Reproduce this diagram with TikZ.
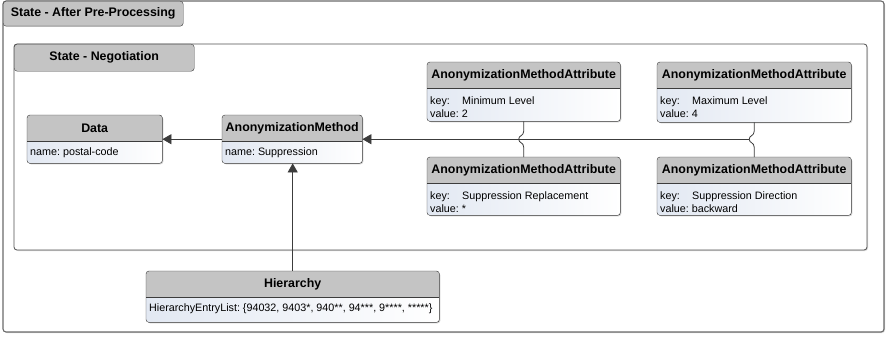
\documentclass[tikz,border=0pt]{standalone}
\usepackage{fontspec}
\setmainfont{Liberation Sans}
\usetikzlibrary{arrows.meta,positioning,calc,shadows}
\definecolor{hgray}{HTML}{C4C4C4}
\definecolor{hline}{HTML}{3C3C3C}
\definecolor{hframe}{HTML}{6A6A6A}
\definecolor{hbody}{HTML}{E2E8F2}

\newcommand{\keytab}{\makebox[32pt][l]{key:}}
% class box: name, north-west corner, width, height, title, body offset, body
\newcommand{\umlclass}[7]{%
  \node[classbox, minimum width=#3pt, minimum height=#4pt, anchor=north west] (#1) at (#2) {};
  \begin{scope}
    \clip[rounded corners=3pt] (#1.north west) rectangle (#1.south east);
    \fill[hgray] (#1.north west) rectangle ($(#1.north east)+(0,26)$);
  \end{scope}
  \draw[hline] ($(#1.north west)+(0,26)$) -- ($(#1.north east)+(0,26)$);
  \draw[hline, rounded corners=3pt] (#1.north west) rectangle (#1.south east);
  \node[headtext] (#1-title) at ($(#1.north)+(0,13)$) {#5};
  \node[bodytext] (#1-body) at ($(#1.north west)+(1,#6)$) {#7};
}

\begin{document}
\frenchspacing
\begin{tikzpicture}[x=1pt, y=-1pt,
  classbox/.style={rectangle, rounded corners=3pt, inner sep=0pt, left color=hbody, right color=white,
    drop shadow={shadow xshift=1.2pt, shadow yshift=-1.2pt, opacity=0.35}},
  headtext/.style={font=\fontsize{12.4}{14}\selectfont\bfseries, inner sep=0pt},
  bodytext/.style={font=\fontsize{10.75}{13}\selectfont\frenchspacing, anchor=west, align=left, inner sep=2pt},
  tab/.style={draw=hline, fill=hgray, rounded corners=3pt, inner sep=0pt, anchor=north west,
    font=\fontsize{12.4}{14}\selectfont\bfseries},
  frame/.style={draw=hframe, rounded corners=3pt, line width=1.1pt,
    drop shadow={shadow xshift=1pt, shadow yshift=-1pt, opacity=0.3}},
  conn/.style={draw=hline, line width=0.8pt},
  assoc/.style={conn, -{Triangle[length=9pt,width=10pt]}},
]
\useasboundingbox (0,0) rectangle (888,337);

% frames
\path[frame, fill=white] (3,1) rectangle (884,332);
\node[tab, minimum width=180pt, minimum height=25pt] (outerTab) at (3,1) {State - After Pre-Processing};
\path[frame, fill=white, line width=0.8pt, draw=hline!90] (14,44) rectangle (867,250);
\node[tab, minimum width=180pt, minimum height=27pt] (innerTab) at (14,44) {State - Negotiation};

% classes
\umlclass{data}{27,115}{135}{48}{Data}{38}{name: postal-code}
\umlclass{method}{222,115}{140}{48}{AnonymizationMethod}{38}{name: Suppression}
\umlclass{attrMin}{427,62}{193}{59}{AnonymizationMethodAttribute}{45}{\keytab Minimum Level\\value: 2}
\umlclass{attrMax}{657,62}{194}{60}{AnonymizationMethodAttribute}{45}{\keytab Maximum Level\\value: 4}
\umlclass{attrRepl}{427,157}{193}{58}{AnonymizationMethodAttribute}{45}{\keytab Suppression Replacement\\value: *}
\umlclass{attrDir}{657,157}{194}{58}{AnonymizationMethodAttribute}{45}{\keytab Suppression Direction\\value: backward}
\umlclass{hier}{146,271}{293}{51}{Hierarchy}{38}{HierarchyEntryList: \{94032, 9403*, 940**, 94***, 9****, *****\}}

% connectors
\coordinate (jl) at (attrMin.south |- method.east);
\coordinate (jr) at (attrMax.south |- method.east);
\draw[assoc] (method.west) -- (data.east);
\draw[assoc] (hier.north) -- (hier.north |- method.south);
\draw[assoc] ($(jr)+(-5,0)$) -- (method.east);
\draw[conn] (attrMin.south) -- ($(jl)+(0,-8)$) .. controls ($(jl)+(0,-3)$) and ($(jl)+(-5,-4)$) .. ($(jl)+(-5,0)$)
  .. controls ($(jl)+(-5,4)$) and ($(jl)+(0,3)$) .. ($(jl)+(0,8)$) -- (attrRepl.north);
\draw[conn] (attrMax.south) -- ($(jr)+(0,-8)$) .. controls ($(jr)+(0,-3)$) and ($(jr)+(-5,-4)$) .. ($(jr)+(-5,0)$)
  .. controls ($(jr)+(-5,4)$) and ($(jr)+(0,3)$) .. ($(jr)+(0,8)$) -- (attrDir.north);
\end{tikzpicture}
\end{document}
